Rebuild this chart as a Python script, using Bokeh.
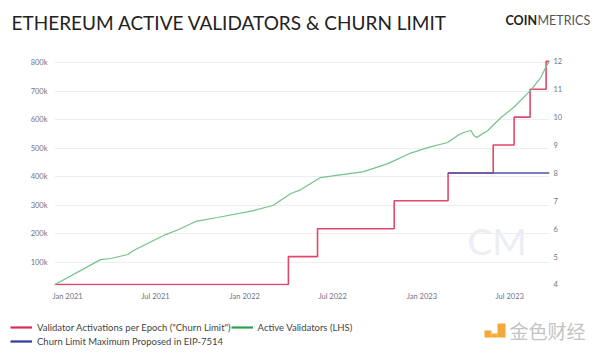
import pandas as pd
from bokeh.plotting import figure
from bokeh.layouts import column
from bokeh.models import (Range1d, LinearAxis, FixedTicker, NumeralTickFormatter,
                          DatetimeTickFormatter, Label, Legend, LegendItem)
from bokeh.core.properties import value
from bokeh.embed import file_html
from bokeh.resources import INLINE

# ---- data ----
active_dates = ["2020-12-05", "2021-03-10", "2021-03-31", "2021-05-05", "2021-05-17",
                "2021-06-27", "2021-07-22", "2021-08-18", "2021-09-22", "2021-11-06",
                "2022-01-19", "2022-02-28", "2022-04-06", "2022-04-26", "2022-06-06",
                "2022-07-24", "2022-09-03", "2022-10-23", "2022-12-09", "2023-01-13",
                "2023-02-23", "2023-03-16", "2023-03-28", "2023-04-12", "2023-04-18",
                "2023-04-24", "2023-05-17", "2023-06-12", "2023-07-09", "2023-08-13",
                "2023-09-03", "2023-09-15", "2023-09-21"]
active_validators = [22000, 110000, 114000, 128000, 142000, 177000, 198000, 216000, 244000,
                     258000, 282000, 300000, 342000, 355000, 398000, 409000, 419000, 447000,
                     484000, 503000, 521000, 546000, 556000, 563000, 546000, 539000, 563000,
                     607000, 644000, 704000, 749000, 791000, 805000]

churn_dates = ["2020-12-05", "2022-04-01", "2022-05-31", "2022-11-05", "2023-02-24",
               "2023-05-28", "2023-07-10", "2023-08-12", "2023-09-14", "2023-09-21"]
churn_limit = [4, 5, 6, 7, 8, 9, 10, 11, 12, 12]

eip_dates = ["2023-02-24", "2023-09-21"]
eip_max = [8, 8]

x_tick_dates = ["2021-01-01", "2021-07-01", "2022-01-01", "2022-07-01", "2023-01-01", "2023-07-01"]
left_ticks = [100000, 200000, 300000, 400000, 500000, 600000, 700000, 800000]
right_ticks = [4, 5, 6, 7, 8, 9, 10, 11, 12]

title_text = "ETHEREUM ACTIVE VALIDATORS & CHURN LIMIT"
legend_labels = ['Validator Activations per Epoch ("Churn Limit")',
                 "Churn Limit Maximum Proposed in EIP-7514",
                 "Active Validators (LHS)"]

# ---- colours / fonts ----
RED = "#e2476c"
GREEN = "#72c48a"
BLUE = "#4f52a8"
FONT = "Lato"
TICK_COL = "#6f7385"

ad = pd.to_datetime(active_dates)
cd = pd.to_datetime(churn_dates)
ed = pd.to_datetime(eip_dates)


def blank(fig):
    fig.axis.visible = False
    fig.grid.visible = False
    fig.outline_line_color = None
    fig.background_fill_color = "white"
    fig.border_fill_color = "white"


# ---- header ----
HEAD_H = 46
head = figure(width=600, height=HEAD_H, output_backend="svg", toolbar_location=None,
              title=None,
              x_range=Range1d(0, 600), y_range=Range1d(HEAD_H, 0),
              min_border=0, min_border_left=0, min_border_right=0,
              min_border_top=0, min_border_bottom=0)
blank(head)
head.text(x=[11], y=[22], text=[title_text], text_font=value(FONT), text_font_size="19px",
          text_color="#222222", text_baseline="middle")
head.text(x=[505], y=[20], text=["COIN"], text_font=value(FONT), text_font_style="bold",
          text_font_size="12.5px", text_color="#222222", text_baseline="middle")
head.text(x=[537], y=[20], text=["METRICS"], text_font=value(FONT), text_font_size="12.5px",
          text_color="#555555", text_baseline="middle")

# ---- main chart ----
p = figure(width=600, height=262, x_axis_type="datetime", output_backend="svg",
           toolbar_location=None, title=None,
           x_range=Range1d(pd.Timestamp("2020-12-05"), pd.Timestamp("2023-09-21")),
           y_range=Range1d(19300, 826300),
           min_border_left=54, min_border_right=51, min_border_top=9, min_border_bottom=23)
p.extra_y_ranges = {"churn": Range1d(3.964, 12.21)}
p.outline_line_color = None
p.background_fill_color = "white"
p.border_fill_color = "white"

p.xaxis.ticker = FixedTicker(ticks=[pd.Timestamp(d).value // 10**6 for d in x_tick_dates])
p.xaxis.formatter = DatetimeTickFormatter(months="%b %Y", days="%b %Y", years="%b %Y")
p.yaxis.ticker = FixedTicker(ticks=left_ticks)
p.yaxis.formatter = NumeralTickFormatter(format="0a")
right_axis = LinearAxis(y_range_name="churn", ticker=FixedTicker(ticks=right_ticks))
p.add_layout(right_axis, "right")
for ax in [p.xaxis[0], p.yaxis[0], right_axis]:
    ax.axis_line_color = None
    ax.major_tick_line_color = None
    ax.minor_tick_line_color = None
    ax.major_tick_out = 0
    ax.major_tick_in = 0
    ax.minor_tick_out = 0
    ax.major_label_text_font = FONT
    ax.major_label_text_font_size = "7.5px"
    ax.major_label_text_color = TICK_COL
p.xaxis.major_label_standoff = 6
p.yaxis[0].major_label_standoff = 7
right_axis.major_label_standoff = 4

p.xgrid.grid_line_color = None
p.ygrid.grid_line_color = "#eeeeee"
p.ygrid.grid_line_width = 1

# watermark in plot
p.add_layout(Label(x=413, y=23, x_units="screen", y_units="screen", text="CM",
                   text_font=FONT, text_font_size="37px", text_color="#eceef4"))

p.step(cd, churn_limit, mode="after", line_color=RED, line_width=1.6, y_range_name="churn")
p.line(ad, active_validators, line_color=GREEN, line_width=1.2)
p.line(ed, eip_max, line_color=BLUE, line_width=1.4, y_range_name="churn")

# ---- footer with legend ----
FOOT_H = 45
foot = figure(width=600, height=FOOT_H, output_backend="svg", toolbar_location=None,
              title=None,
              x_range=Range1d(0, 600), y_range=Range1d(FOOT_H, 0),
              min_border=0, min_border_left=0, min_border_right=0,
              min_border_top=0, min_border_bottom=0)
blank(foot)
lr = foot.line([0, 0], [float("nan")] * 2, line_color="#e0294f", line_width=2.2)
lb = foot.line([0, 0], [float("nan")] * 2, line_color="#2b3a9b", line_width=2.2)
lg = foot.line([0, 0], [float("nan")] * 2, line_color="#2ba24c", line_width=2.2)
legend = Legend(items=[LegendItem(label=legend_labels[0], renderers=[lr]),
                       LegendItem(label=legend_labels[1], renderers=[lb]),
                       LegendItem(label=legend_labels[2], renderers=[lg])],
                orientation="vertical", nrows=2,
                location=(10, 5),
                label_text_font=FONT, label_text_font_size="9.5px", label_text_color="#444444",
                glyph_width=22, glyph_height=14, label_height=14, label_standoff=5,
                spacing=0, padding=0, margin=0,
                border_line_color=None, background_fill_alpha=0)
foot.add_layout(legend, "center")

# 金色财经 watermark
foot.quad(left=[484], right=[491], top=[22], bottom=[29], fill_color="#f2a93b", line_color=None)
foot.quad(left=[497], right=[505], top=[15], bottom=[29], fill_color="#f2a93b", line_color=None)
foot.quad(left=[491], right=[497], top=[25], bottom=[29], fill_color="#f2a93b", line_color=None)
foot.text(x=[509], y=[22], text=["金色财经"], text_font=value("Noto Sans CJK SC"),
          text_font_size="19px", text_color="#c4c4c4", text_baseline="middle")

layout = column(head, column(p, spacing=0), foot, spacing=0)
open("out.html", "w").write(file_html(layout, INLINE))
